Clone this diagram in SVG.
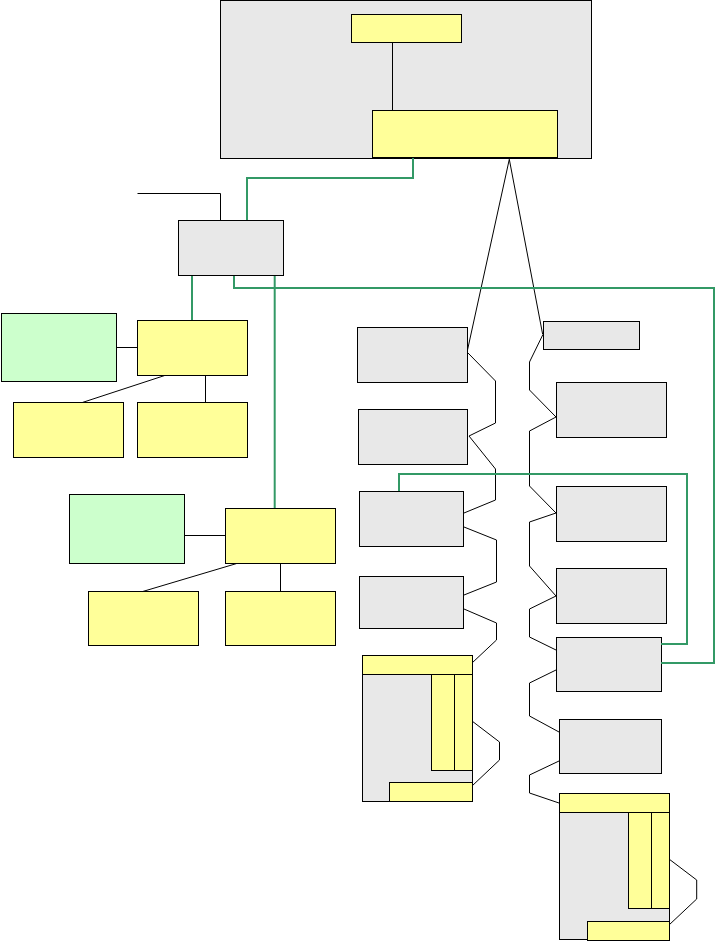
<svg xmlns="http://www.w3.org/2000/svg" width="716" height="941" viewBox="0 0 716 941">
<style>
.g{fill:#e8e8e8;stroke:#000;stroke-width:1}
.y{fill:#ffff99;stroke:#000;stroke-width:1}
.c{fill:#ccffcc;stroke:#000;stroke-width:1}
.k{fill:none;stroke:#000;stroke-width:1}
.gl{fill:none;stroke:#339966;stroke-width:2}
</style>
<rect width="716" height="941" fill="#fff"/>
<g id="container"><rect class="g" x="220.5" y="0.5" width="371" height="158"/></g>
<g id="top1"><rect class="y" x="351.5" y="14.5" width="110" height="28"/></g>
<g id="top2"><rect class="y" x="372.5" y="110.5" width="185" height="47"/></g>
<g id="hub"><rect class="g" x="178.5" y="220.5" width="105" height="55"/></g>
<g id="greenA"><rect class="c" x="1.5" y="313.5" width="115" height="68"/></g>
<g id="yA"><rect class="y" x="137.5" y="320.5" width="110" height="55"/></g>
<g id="yA1"><rect class="y" x="13.5" y="402.5" width="110" height="55"/></g>
<g id="yA2"><rect class="y" x="137.5" y="402.5" width="110" height="55"/></g>
<g id="greenB"><rect class="c" x="69.5" y="494.5" width="115" height="69"/></g>
<g id="yB"><rect class="y" x="225.5" y="508.5" width="110" height="55"/></g>
<g id="yB1"><rect class="y" x="88.5" y="591.5" width="110" height="54"/></g>
<g id="yB2"><rect class="y" x="225.5" y="591.5" width="110" height="54"/></g>
<g id="L1"><rect class="g" x="357.5" y="327.5" width="110" height="55"/></g>
<g id="L2"><rect class="g" x="358.5" y="409.5" width="109" height="55"/></g>
<g id="L3"><rect class="g" x="359.5" y="491.5" width="104" height="55"/></g>
<g id="L4"><rect class="g" x="359.5" y="576.5" width="104" height="52"/></g>
<g id="L5">
<rect class="g" x="362.5" y="655.5" width="110" height="146"/>
<rect class="y" x="362.5" y="655.5" width="110" height="19"/>
<rect class="y" x="431.5" y="674.5" width="23" height="96"/>
<rect class="y" x="454.5" y="674.5" width="18" height="96"/>
<rect class="y" x="389.5" y="782.5" width="83" height="19"/>
</g>
<g id="R0"><rect class="g" x="543.5" y="321.5" width="96" height="28"/></g>
<g id="R1"><rect class="g" x="556.5" y="382.5" width="110" height="55"/></g>
<g id="R2"><rect class="g" x="556.5" y="486.5" width="110" height="55"/></g>
<g id="R3"><rect class="g" x="556.5" y="568.5" width="110" height="55"/></g>
<g id="R4"><rect class="g" x="556.5" y="637.5" width="105" height="54"/></g>
<g id="R5"><rect class="g" x="559.5" y="719.5" width="102" height="54"/></g>
<g id="R6">
<rect class="g" x="559.5" y="793.5" width="110" height="146"/>
<rect class="y" x="559.5" y="793.5" width="110" height="19"/>
<rect class="y" x="628.5" y="812.5" width="23" height="96"/>
<rect class="y" x="651.5" y="812.5" width="18" height="96"/>
<rect class="y" x="587.5" y="921.5" width="82" height="19"/>
</g>
<g id="connectors">
<path class="k" d="M392.5 42.5V110.5"/>
<path class="k" d="M137.5 193.5H220.5V220.5"/>
<path class="k" d="M509.3 159.3L467.5 350M509.3 159.3L542.7 334.5"/>
<path class="k" d="M116.5 347.5H137.5M164.7 375.5L82.3 402.5M205.5 375.5V402.5"/>
<path class="k" d="M184.5 535.5H225.5M236.7 563.5L142.7 591.5M280.5 563.5V591.5"/>
<path class="k" d="M468 353L495.5 381V423L469 436L495.5 469V500L464 513"/>
<path class="k" d="M464 527L496.5 540V582L464 595"/>
<path class="k" d="M464 609L496.5 623V640L472 663"/>
<path class="k" d="M472 721L499.5 742V760L472 786"/>
<path class="k" d="M542.7 335L529.5 362V390L556 417L529.5 431V486L556 513L529.5 522V566L556 596L529.5 609V637L556 650"/>
<path class="k" d="M556 670L529.5 683V716L559 732"/>
<path class="k" d="M559 761L529.5 775V793L559 803"/>
<path class="k" d="M669 859L696.7 880V899L669 925"/>
<path class="gl" d="M413 158V178H247V220"/>
<path class="gl" d="M192 276V320"/>
<path class="gl" d="M274.7 276V508"/>
<path class="gl" d="M234 276V288H714V663H661"/>
<path class="gl" d="M399 491V474H687V644H661"/>
</g>
</svg>
